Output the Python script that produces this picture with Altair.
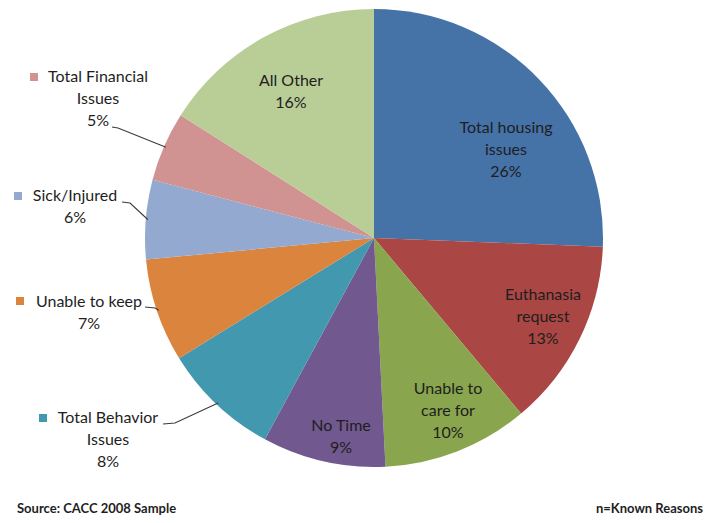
import altair as alt
import pandas as pd
import numpy as np

# ---- data ----
categories = ["Total housing issues", "Euthanasia request", "Unable to care for",
              "No Time", "Total Behavior Issues", "Unable to keep",
              "Sick/Injured", "Total Financial Issues", "All Other"]
values = [25.6, 13.3, 10.3, 8.7, 8.3, 7.3, 5.6, 4.9, 16.0]
label_text = ["Total housing\nissues", "Euthanasia\nrequest", "Unable to\ncare for",
              "No Time", "Total Behavior\nIssues", "Unable to keep",
              "Sick/Injured", "Total Financial\nIssues", "All Other"]
colors = ["#4572A7", "#AA4643", "#89A54E", "#71588F", "#4198AF",
          "#DB843D", "#93A9CF", "#D19392", "#B9CD96"]
source_note = "Source: CACC 2008 Sample"
n_note = "n=Known Reasons"

# ---- layout (pixels, chart coordinates) ----
W, H = 697, 507
CX, CY, R = 366, 230, 229
FONT = "Lato"
# first-line centres of each label
label_pos = {
    "Total housing issues": (498, 120),
    "Euthanasia request": (535, 287),
    "Unable to care for": (440, 381),
    "No Time": (333, 418),
    "All Other": (283, 73),
    "Total Financial Issues": (90, 69),
    "Sick/Injured": (67, 188),
    "Unable to keep": (81, 294),
    "Total Behavior Issues": (100, 410),
}
# legend-key squares for outside labels
key_pos = {
    "Total Financial Issues": (26, 69),
    "Sick/Injured": (10, 188),
    "Unable to keep": (12, 293),
    "Total Behavior Issues": (35, 410),
}
# leader line start + elbow (near label)
leader_pts = {
    "Total Financial Issues": [(104, 119), (110, 120)],
    "Sick/Injured": [(114, 194), (122, 195)],
    "Unable to keep": [(137, 299), (147, 300)],
    "Total Behavior Issues": [(155, 416), (167, 415)],
}

df = pd.DataFrame({"cat": categories, "value": values, "order": range(len(categories))})
cum = np.cumsum(values)
mid = cum - np.array(values) / 2.0
total = float(sum(values))

color_scale = alt.Scale(domain=categories, range=colors)

pie = alt.Chart(df).mark_arc(outerRadius=R).encode(
    theta=alt.Theta("value:Q", stack=True),
    order=alt.Order("order:Q"),
    color=alt.Color("cat:N", scale=color_scale, legend=None),
    x=alt.value(CX),
    y=alt.value(CY),
)

# labels
lab_rows = []
for c, t, v in zip(categories, label_text, values):
    x, y = label_pos[c]
    lab_rows.append({"cat": c, "text": f"{t}\n{round(v)}%", "x": x, "y": y})
lab_df = pd.DataFrame(lab_rows)
labels = alt.Chart(lab_df).mark_text(
    font=FONT, fontSize=16, lineBreak="\n", lineHeight=22,
    align="center", baseline="middle", color="#1e1e1e"
).encode(
    x=alt.X("x:Q", scale=None), y=alt.Y("y:Q", scale=None), text="text:N"
)

# leader lines: from label elbow to slice edge at its mid angle
lead_rows = []
for i, c in enumerate(categories):
    if c not in leader_pts:
        continue
    ang = 2 * np.pi * mid[i] / total
    ex = CX + (R - 2) * np.sin(ang)
    ey = CY - (R - 2) * np.cos(ang)
    pts = leader_pts[c] + [(ex, ey)]
    for k, (px, py) in enumerate(pts):
        lead_rows.append({"cat": c, "k": k, "x": px, "y": py})
lead_df = pd.DataFrame(lead_rows)
leaders = alt.Chart(lead_df).mark_line(color="#3a3a3a", strokeWidth=1.1).encode(
    x=alt.X("x:Q", scale=None), y=alt.Y("y:Q", scale=None),
    detail="cat:N", order="k:Q",
)

key_df = pd.DataFrame([{"cat": c, "x": p[0], "y": p[1]} for c, p in key_pos.items()])
keys = alt.Chart(key_df).mark_square(size=64, opacity=1).encode(
    x=alt.X("x:Q", scale=None), y=alt.Y("y:Q", scale=None),
    color=alt.Color("cat:N", scale=color_scale, legend=None),
)

foot_df = pd.DataFrame({"text": [source_note]})
foot1 = alt.Chart(foot_df).mark_text(
    font=FONT, fontSize=13, fontWeight="bold", align="left", baseline="alphabetic",
    color="#1e1e1e"
).encode(x=alt.value(9), y=alt.value(505), text="text:N")
foot2_df = pd.DataFrame({"text": [n_note]})
foot2 = alt.Chart(foot2_df).mark_text(
    font=FONT, fontSize=13, fontWeight="bold", align="right", baseline="alphabetic",
    color="#1e1e1e"
).encode(x=alt.value(695), y=alt.value(505), text="text:N")

chart = alt.layer(pie, leaders, keys, labels, foot1, foot2).properties(
    width=W, height=H, padding=0, autosize="none"
).configure_view(stroke=None)

chart.save("out.html", embed_options={"renderer": "svg", "actions": False})
